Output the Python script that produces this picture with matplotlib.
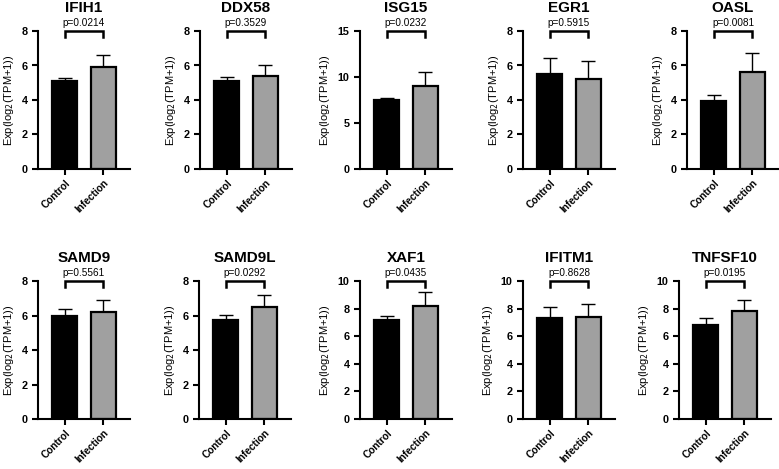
import numpy as np
import matplotlib
matplotlib.use('Agg')
import matplotlib.pyplot as plt

plt.rcParams['font.family'] = ['Liberation Sans', 'DejaVu Sans']

genes = ["IFIH1", "DDX58", "ISG15", "EGR1", "OASL",
         "SAMD9", "SAMD9L", "XAF1", "IFITM1", "TNFSF10"]
groups = ["Control", "Infection"]
control_mean = [5.1, 5.1, 7.5, 5.5, 3.95, 6.0, 5.75, 7.2, 7.35, 6.8]
control_err = [0.15, 0.25, 0.2, 0.95, 0.35, 0.4, 0.3, 0.3, 0.75, 0.5]
infection_mean = [5.9, 5.4, 9.05, 5.2, 5.6, 6.2, 6.5, 8.2, 7.4, 7.85]
infection_err = [0.7, 0.65, 1.5, 1.05, 1.15, 0.7, 0.7, 1.0, 0.9, 0.75]
p_values = ["0.0214", "0.3529", "0.0232", "0.5915", "0.0081",
            "0.5561", "0.0292", "0.0435", "0.8628", "0.0195"]
y_max = [8, 8, 15, 8, 8, 8, 8, 10, 10, 10]
y_step = [2, 2, 5, 2, 2, 2, 2, 2, 2, 2]

W, H = 779, 469
fig = plt.figure(figsize=(W / 100, H / 100), dpi=100)

lefts_top = [38, 200, 360, 523, 687]
lefts_bot = [38, 199, 360, 523, 679]
ax_w, ax_h = 92, 138
tops = [31, 281]

for i, g in enumerate(genes):
    row, col = divmod(i, 5)
    left = (lefts_top if row == 0 else lefts_bot)[col]
    top = tops[row]
    ax = fig.add_axes([left / W, 1 - (top + ax_h) / H, ax_w / W, ax_h / H])

    means = [control_mean[i], infection_mean[i]]
    errs = [control_err[i], infection_err[i]]
    ax.bar([0, 1], means, width=0.65, color=['black', '#a0a0a0'],
           edgecolor='black', linewidth=1.6, zorder=2)
    ax.errorbar([0, 1], means, yerr=[[0, 0], errs], fmt='none', ecolor='black',
                elinewidth=1.0, capsize=5, capthick=1.0, zorder=1)

    ym = y_max[i]
    ax.set_ylim(0, ym)
    ax.set_xlim(-0.7, 1.7)
    ax.set_yticks(np.arange(0, ym + 0.1, y_step[i]))
    ax.set_xticks([0, 1])
    ax.set_xticklabels(groups, rotation=45, ha='right', rotation_mode='anchor',
                       fontsize=7.3, fontweight='bold')
    for lab in ax.get_yticklabels():
        lab.set_fontweight('bold')
        lab.set_fontsize(7.8)
    ax.spines['top'].set_visible(False)
    ax.spines['right'].set_visible(False)
    ax.spines['left'].set_linewidth(1.5)
    ax.spines['bottom'].set_linewidth(1.5)
    ax.tick_params(axis='both', width=1.5, length=4.5, pad=3)
    ax.tick_params(axis='x', pad=2)
    ax.set_ylabel("Exp(log$_2$(TPM+1))", fontsize=8, labelpad=4)
    ax.set_title(g, fontsize=11, fontweight='bold', pad=14)

    # significance bracket
    ax.plot([0, 0, 1, 1], [ym * 0.955, ym, ym, ym * 0.955], color='black',
            linewidth=1.8, clip_on=False, solid_joinstyle='miter')
    ax.text(0.5, ym * 1.025, "p=" + p_values[i], ha='center', va='bottom',
            fontsize=7.2)

fig.savefig("out.png", dpi=100)
